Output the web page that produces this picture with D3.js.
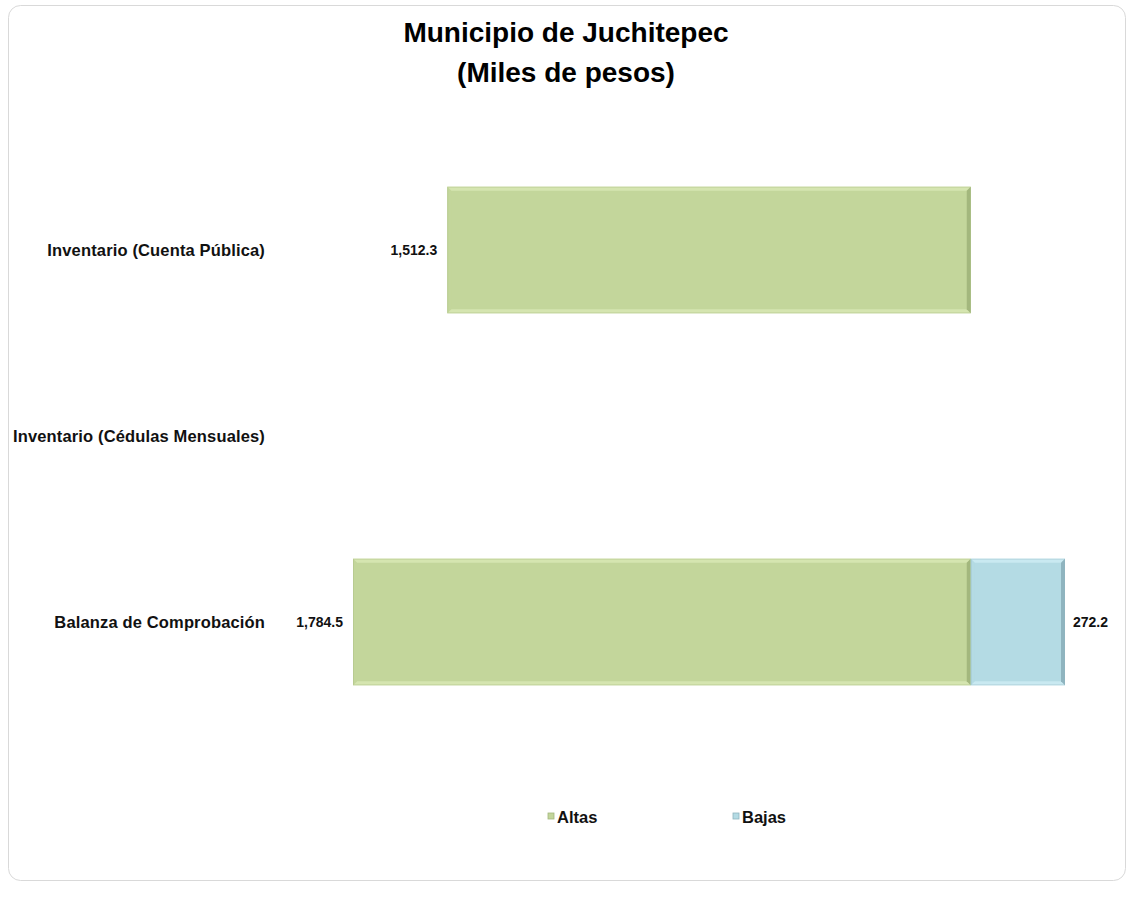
<!DOCTYPE html>
<html>
<head>
<meta charset="utf-8">
<script src="https://cdn.jsdelivr.net/npm/d3@7"></script>
<style>
  body { margin: 0; background: #fff; }
  svg { display: block; font-family: Arial, "Liberation Sans", sans-serif; }
</style>
</head>
<body>
<svg id="chart" width="1133" height="907"></svg>
<script>
"use strict";

// data
var categories = ["Inventario (Cuenta Pública)", "Inventario (Cédulas Mensuales)", "Balanza de Comprobación"];
var altas = [1512.3, null, 1784.5];
var bajas = [null, null, 272.2];
var seriesNames = ["Altas", "Bajas"];
var titleLines = ["Municipio de Juchitepec", "(Miles de pesos)"];

var COLORS = {
  Altas: { fill: "#c3d69b", light: "#d5e5b0", dark: "#a3b77d" },
  Bajas: { fill: "#b4dbe4", light: "#c9e9f1", dark: "#8fb4bf" }
};

var svg = d3.select("#chart");

// outer frame
svg.append("rect")
  .attr("x", 8.5).attr("y", 5.5)
  .attr("width", 1117).attr("height", 875)
  .attr("rx", 12)
  .attr("fill", "#fff")
  .attr("stroke", "#d9d9d9");

// title
svg.append("g").selectAll("text")
  .data(titleLines)
  .join("text")
  .attr("x", 566)
  .attr("y", function(d, i) { return 42 + i * 40; })
  .attr("text-anchor", "middle")
  .attr("font-size", 28)
  .attr("font-weight", "bold")
  .attr("fill", "#000")
  .text(function(d) { return d; });

// scales: Altas go left of zero, Bajas go right
var x = d3.scaleLinear()
  .domain([-d3.max(altas), d3.max(bajas)])
  .range([353, 1065]);

var y = d3.scaleBand()
  .domain(categories)
  .range([157, 715])
  .paddingInner(0.32)
  .paddingOuter(0.16);

// category labels
svg.append("g").selectAll("text")
  .data(categories)
  .join("text")
  .attr("x", 265)
  .attr("y", function(d) { return y(d) + y.bandwidth() / 2; })
  .attr("dy", "0.35em")
  .attr("text-anchor", "end")
  .attr("font-size", 16.5)
  .attr("letter-spacing", 0.15)
  .attr("font-weight", "bold")
  .attr("fill", "#111")
  .text(function(d) { return d; });

var segs = [];
categories.forEach(function(c, i) {
  if (altas[i] != null) segs.push({ cat: c, series: "Altas", v: altas[i], x0: x(-altas[i]), x1: x(0) });
  if (bajas[i] != null) segs.push({ cat: c, series: "Bajas", v: bajas[i], x0: x(0), x1: x(bajas[i]) });
});

function drawBevelBar(g, d) {
  var x0 = d.x0, x1 = d.x1, y0 = y(d.cat), h = y.bandwidth(), w = x1 - x0, b = 4;
  var col = COLORS[d.series];
  g.append("rect").attr("x", x0).attr("y", y0).attr("width", w).attr("height", h).attr("fill", col.fill);
  // top and bottom highlights
  g.append("path")
    .attr("d", "M" + x0 + "," + y0 + "H" + x1 + "L" + (x1 - b) + "," + (y0 + b) + "H" + (x0 + b) + "Z")
    .attr("fill", col.light);
  g.append("path")
    .attr("d", "M" + x0 + "," + (y0 + h) + "H" + x1 + "L" + (x1 - b) + "," + (y0 + h - b) + "H" + (x0 + b) + "Z")
    .attr("fill", col.light);
  // side shading
  g.append("path")
    .attr("d", "M" + x1 + "," + y0 + "V" + (y0 + h) + "L" + (x1 - b) + "," + (y0 + h - b) + "V" + (y0 + b) + "Z")
    .attr("fill", col.dark);
  g.append("path")
    .attr("d", "M" + x0 + "," + y0 + "V" + (y0 + h) + "L" + (x0 + b) + "," + (y0 + h - b) + "V" + (y0 + b) + "Z")
    .attr("fill", col.fill).attr("opacity", 0.6);
  g.append("rect").attr("x", x0 + 0.5).attr("y", y0 + 0.5).attr("width", w - 1).attr("height", h - 1)
    .attr("fill", "none").attr("stroke", col.dark).attr("stroke-opacity", 0.35);
}

var bars = svg.append("g");
segs.forEach(function(d) { drawBevelBar(bars.append("g"), d); });

// value labels
var fmt = d3.format(",.1f");
svg.append("g").selectAll("text")
  .data(segs)
  .join("text")
  .attr("x", function(d) { return d.series === "Altas" ? d.x0 - 10 : d.x1 + 8; })
  .attr("y", function(d) { return y(d.cat) + y.bandwidth() / 2; })
  .attr("dy", "0.35em")
  .attr("text-anchor", function(d) { return d.series === "Altas" ? "end" : "start"; })
  .attr("font-size", 14)
  .attr("font-weight", "bold")
  .attr("fill", "#111")
  .text(function(d) { return fmt(d.v); });

// legend
var legend = svg.append("g").selectAll("g")
  .data(seriesNames)
  .join("g")
  .attr("transform", function(d, i) { return "translate(" + (548 + i * 185) + ",817)"; });
legend.append("rect")
  .attr("x", 0).attr("y", -4).attr("width", 6).attr("height", 6)
  .attr("fill", function(d) { return COLORS[d].fill; })
  .attr("stroke", function(d) { return COLORS[d].dark; }).attr("stroke-width", 0.8);
legend.append("text")
  .attr("x", 9).attr("y", 0).attr("dy", "0.35em")
  .attr("font-size", 16.5).attr("font-weight", "bold").attr("fill", "#111")
  .text(function(d) { return d; });
</script>
</body>
</html>
